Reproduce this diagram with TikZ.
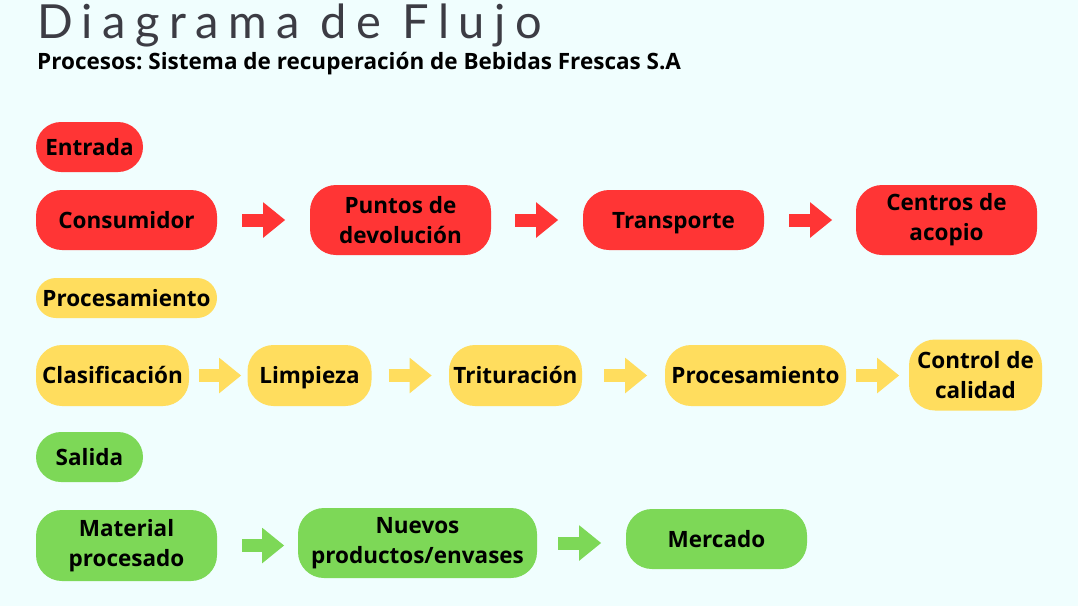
\documentclass[tikz,border=0pt]{standalone}
\usepackage{fontspec}
\setmainfont{Open Sans}
\newfontfamily\titlefont[LetterSpace=20]{Lato}
\usetikzlibrary{calc,shapes,arrows.meta}
\frenchspacing

\definecolor{bgcyan}{HTML}{F0FEFE}
\definecolor{redbox}{HTML}{FF3535}
\definecolor{ylwbox}{HTML}{FFDD5E}
\definecolor{grnbox}{HTML}{7DD857}
\definecolor{titlegray}{HTML}{3C3C44}

\begin{document}
\begin{tikzpicture}[x=1pt,y=-1pt,
    box/.style={rounded corners=26pt, inner sep=0pt, align=center,
      font=\fontsize{22.5}{30}\selectfont\bfseries, text=black},
    oneline/.style={text height=20pt, text depth=4pt},
    tag/.style={box, oneline, rounded corners=20pt},
    flow/.style={line width=13pt, -{Triangle[length=22pt,width=34pt]}}]
    \useasboundingbox [fill=bgcyan] (0,0) rectangle (1078,606);

    \node [anchor=base west, font=\fontsize{47}{47}\selectfont\titlefont, text=titlegray, inner sep=0pt] (titulo) at (37,38) {Diagrama de Flujo};
    \node [anchor=base west, font=\fontsize{22.5}{24}\selectfont\bfseries, inner sep=0pt] (subtitulo) at (37,69) {Procesos: Sistema de recuperación de Bebidas Frescas S.A};

    % Entrada
    \node [tag, rounded corners=25pt, fill=redbox, minimum width=107, minimum height=50] (entrada) at (89.5,147) {Entrada};
    \node [box, oneline, fill=redbox, minimum width=181, minimum height=60] (consumidor) at (126.5,220) {Consumidor};
    \node [box, fill=redbox, minimum width=181, minimum height=70] (puntos) at (400.5,220) {Puntos de\\devolución};
    \node [box, oneline, fill=redbox, minimum width=181, minimum height=60] (transporte) at (673.5,220) {Transporte};
    \node [box, fill=redbox, minimum width=181, minimum height=70] (centros) at (946.5,220) {Centros de\\acopio};
    \draw [flow, redbox] ($(consumidor.east)+(25,0)$) -- ++(43,0);
    \draw [flow, redbox] ($(puntos.east)+(24,0)$) -- ++(43,0);
    \draw [flow, redbox] ($(transporte.east)+(25,0)$) -- ++(43,0);

    % Procesamiento
    \node [tag, fill=ylwbox, minimum width=181, minimum height=40] (proc) at (126.5,298) {Procesamiento};
    \node [box, oneline, fill=ylwbox, minimum width=153, minimum height=61] (clasificacion) at (112.5,375.5) {Clasificación};
    \node [box, oneline, fill=ylwbox, minimum width=124, minimum height=61] (limpieza) at (309.5,375.5) {Limpieza};
    \node [box, oneline, fill=ylwbox, minimum width=133, minimum height=61] (trituracion) at (515.5,375.5) {Trituración};
    \node [box, oneline, fill=ylwbox, minimum width=181, minimum height=61] (procesamiento) at (755.5,375.5) {Procesamiento};
    \node [box, fill=ylwbox, minimum width=133, minimum height=71] (control) at (975.5,375) {Control de\\calidad};
    \draw [flow, ylwbox] ($(clasificacion.east)+(10,0)$) -- ++(42,0);
    \draw [flow, ylwbox] ($(limpieza.east)+(17,0)$) -- ++(43,0);
    \draw [flow, ylwbox] ($(trituracion.east)+(22,0)$) -- ++(43,0);
    \draw [flow, ylwbox] ($(procesamiento.east)+(10,0)$) -- ++(43,0);

    % Salida
    \node [tag, rounded corners=25pt, fill=grnbox, minimum width=107, minimum height=50] (salida) at (89.5,457) {Salida};
    \node [box, fill=grnbox, minimum width=181, minimum height=71] (material) at (126.5,545.5) {Material\\procesado};
    \node [box, fill=grnbox, minimum width=239, minimum height=70] (nuevos) at (417.5,543) {Nuevos\\productos/envases};
    \node [box, oneline, fill=grnbox, minimum width=181, minimum height=60] (mercado) at (716.5,539) {Mercado};
    \draw [flow, grnbox] ($(material.east)+(25,0)$) -- ++(42,0);
    \draw [flow, grnbox] ($(nuevos.east)+(21,0)$) -- ++(43,0);
\end{tikzpicture}
\end{document}
